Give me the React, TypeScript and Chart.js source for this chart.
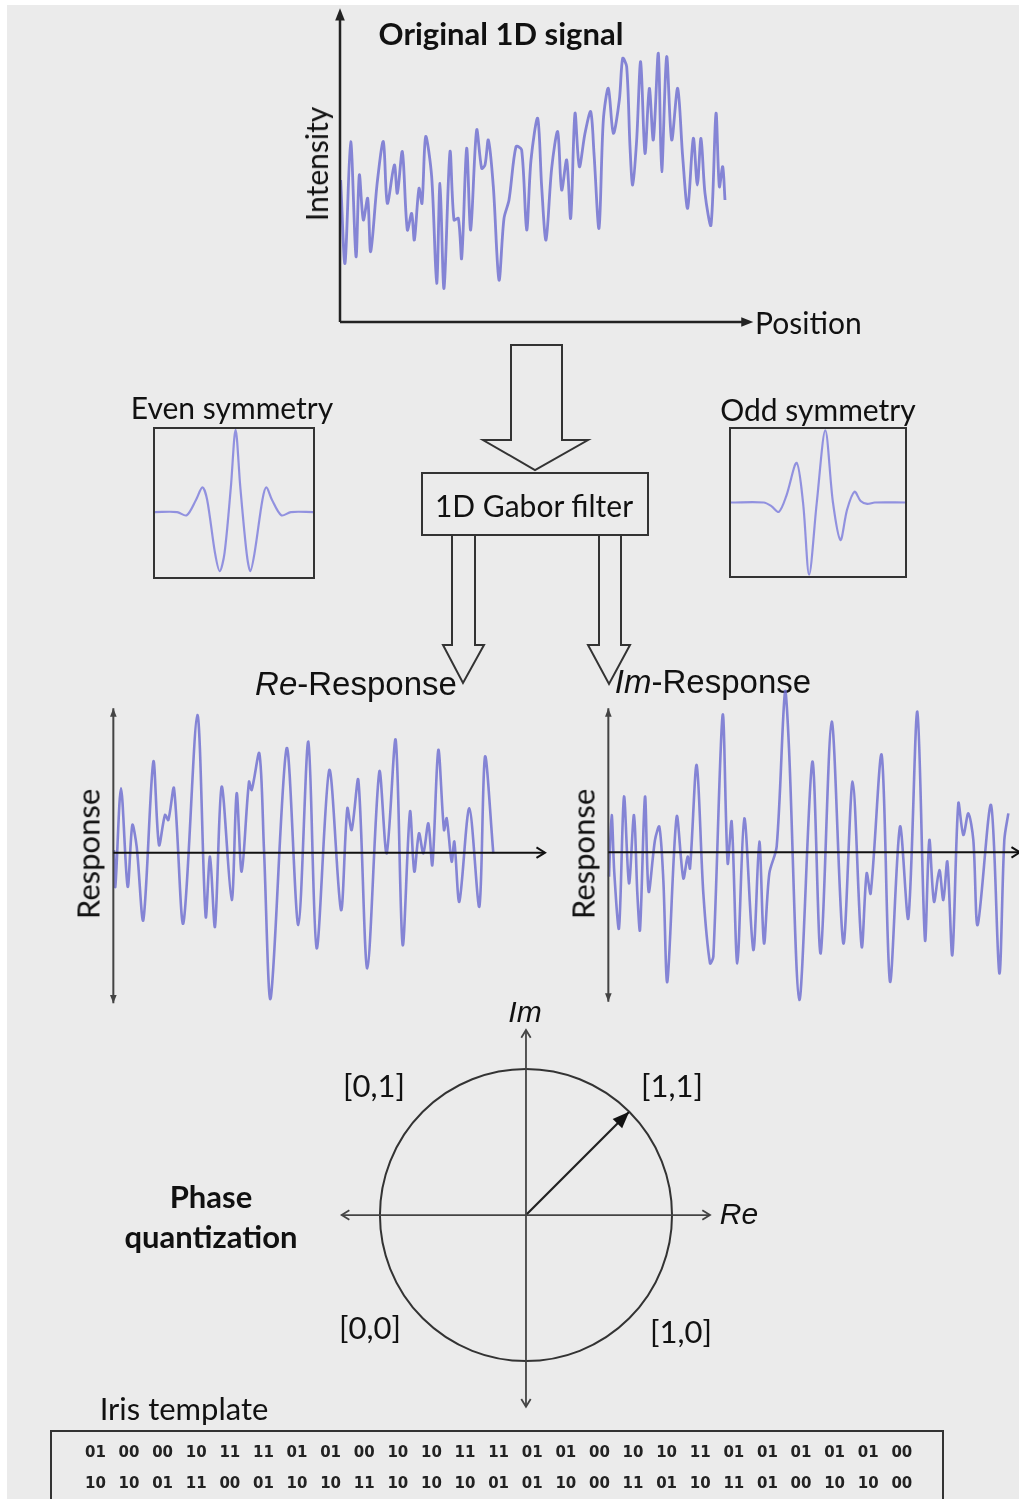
import React, { useEffect, useRef } from "react";
import { Chart, registerables } from "chart.js";
Chart.register(...registerables);

// ---------- Original 1D signal (position, intensity; arbitrary units) ----------
const origPos = [2, 15, 32, 48, 58, 70, 83, 92, 112, 130, 142, 163, 172, 187, 202, 215, 223, 237, 246, 257, 275, 290, 300, 312, 330, 342, 355, 365, 380, 392, 410, 425, 435, 445, 460, 477, 492, 507, 528, 545, 560, 573, 593, 605, 618, 635, 653, 665, 680, 692, 705, 718, 735, 752, 762, 777, 790, 805, 820, 838, 848, 860, 870, 878, 890, 902, 915, 928, 940, 955, 965, 980, 995, 1013, 1028, 1043, 1060, 1072, 1083, 1095, 1113, 1128, 1138, 1148, 1155];
const origVal = [426, 176, 541, 196, 441, 306, 371, 211, 421, 541, 356, 471, 386, 511, 276, 326, 246, 401, 356, 556, 436, 116, 416, 101, 511, 306, 311, 191, 521, 276, 576, 461, 471, 546, 406, 126, 311, 366, 526, 516, 276, 486, 611, 406, 246, 461, 571, 396, 486, 311, 626, 466, 566, 631, 506, 281, 606, 701, 566, 666, 791, 766, 526, 411, 546, 781, 506, 701, 546, 806, 451, 796, 546, 701, 496, 341, 551, 411, 551, 386, 291, 626, 406, 466, 366];

// ---------- Gabor filter kernels ----------
const evenPos = [0, 14, 20, 26, 30, 33, 38, 41, 44, 48, 51, 54, 58, 60.3, 63, 68, 70.5, 74, 80, 86, 100];
const evenVal = [0, 0, -0.04, 0.15, 0.3, 0.15, -0.5, -0.72, -0.5, 0.3, 1.0, 0.3, -0.5, -0.72, -0.5, 0.15, 0.3, 0.15, -0.04, 0, 0];
const oddPos = [0, 18.8, 23.2, 27.5, 31.9, 37.7, 41.4, 44.9, 49.3, 54.2, 58.6, 62.9, 66.7, 71, 74.5, 78.3, 82.6, 100];
const oddVal = [0, 0, -0.05, -0.13, 0.1, 0.55, 0, -1.0, 0, 1.0, 0, -0.52, -0.1, 0.15, 0.02, -0.02, 0, 0];

// ---------- Re-Response ----------
const rePos = [2, 6, 23, 43, 57, 70, 90, 120, 137, 155, 165, 182, 210, 252, 277, 290, 305, 325, 355, 370, 385, 407, 415, 438, 452, 472, 520, 555, 585, 610, 648, 683, 702, 715, 735, 762, 798, 820, 847, 868, 890, 903, 917, 930, 945, 957, 975, 992, 1000, 1015, 1023, 1038, 1068, 1098, 1115, 1140];
const reVal = [8, -102, 193, -102, 83, 18, -202, 273, 23, 113, 98, 193, -212, 413, -192, -12, -222, 198, -142, 178, -57, 213, 188, 298, 8, -437, 313, -217, 333, -287, 248, -172, 133, 68, 218, -347, 243, -2, 338, -277, 123, -57, 58, -2, 88, -37, 308, 68, 103, -27, 33, -147, 133, -162, 288, -2];

// ---------- Im-Response ----------
const imPos = [2, 10, 18, 32, 47, 62, 77, 87, 95, 110, 121, 140, 153, 165, 177, 205, 225, 238, 245, 265, 285, 305, 315, 343, 358, 370, 387, 408, 435, 453, 467, 483, 505, 530, 542, 573, 612, 637, 670, 705, 733, 760, 775, 787, 820, 845, 875, 900, 927, 950, 963, 977, 993, 1005, 1017, 1032, 1050, 1065, 1080, 1095, 1108, 1148, 1173, 1188, 1200];
const imVal = [-73, 112, -63, -228, 167, -93, 112, -123, -233, 167, -118, 37, 77, -83, -388, 107, -78, -13, -48, 262, -123, -333, -313, 412, -33, 92, -333, 102, -293, 32, -273, -63, 17, 482, 312, -443, 272, -303, 392, -273, 212, -283, -63, -123, 292, -388, 77, -198, 422, -263, 37, -148, -53, -143, -28, -308, 147, 52, 117, 37, -218, 142, -363, 37, 117];

// ---------- Phase quantization ----------
const phasorRe = [0, 0.707];
const phasorIm = [0, 0.707];
const quadrantLabels = ["[0,1]", "[1,1]", "[0,0]", "[1,0]"];

// ---------- Iris template ----------
const templateRow1 = ["01", "00", "00", "10", "11", "11", "01", "01", "00", "10", "10", "11", "11", "01", "01", "00", "10", "10", "11", "01", "01", "01", "01", "01", "00"];
const templateRow2 = ["10", "10", "01", "11", "00", "01", "10", "10", "11", "10", "10", "10", "01", "01", "10", "00", "11", "01", "10", "11", "01", "00", "10", "10", "00"];

const BG = "#ebebeb";
const SIGNAL = "rgba(108,108,208,0.82)";
const FILTER = "rgba(140,140,222,0.95)";
const CAL = "Lato, 'Open Sans', sans-serif";
const ARIAL = "'Liberation Sans', Arial, sans-serif";

function head(ctx: CanvasRenderingContext2D, fx: number, fy: number, tx: number, ty: number, size: number, filled: boolean) {
  const ang = Math.atan2(ty - fy, tx - fx);
  const spread = filled ? 0.38 : 0.55;
  const a1 = ang + Math.PI - spread;
  const a2 = ang + Math.PI + spread;
  ctx.beginPath();
  ctx.moveTo(tx + size * Math.cos(a1), ty + size * Math.sin(a1));
  ctx.lineTo(tx, ty);
  ctx.lineTo(tx + size * Math.cos(a2), ty + size * Math.sin(a2));
  if (filled) {
    ctx.closePath();
    ctx.fill();
  } else ctx.stroke();
}

function line(ctx: CanvasRenderingContext2D, x1: number, y1: number, x2: number, y2: number) {
  ctx.beginPath();
  ctx.moveTo(x1, y1);
  ctx.lineTo(x2, y2);
  ctx.stroke();
}

type Props = {
  left: number;
  top: number;
  width: number;
  height: number;
  xMin: number;
  xMax: number;
  yMin: number;
  yMax: number;
  datasets: any[];
  draw?: (chart: any) => void;
};

function PlotCanvas(p: Props) {
  const ref = useRef<HTMLCanvasElement>(null);
  useEffect(() => {
    const chart = new Chart(ref.current as HTMLCanvasElement, {
      type: "scatter",
      data: { datasets: p.datasets },
      options: {
        animation: false,
        responsive: false,
        maintainAspectRatio: false,
        events: [],
        layout: { padding: 0, autoPadding: false },
        plugins: { legend: { display: false }, tooltip: { enabled: false }, title: { display: false } },
        scales: {
          x: { type: "linear", min: p.xMin, max: p.xMax, display: false },
          y: { type: "linear", min: p.yMin, max: p.yMax, display: false },
        },
      },
      plugins: [
        {
          id: "deco",
          afterDatasetsDraw: (c: any) => {
            if (p.draw) {
              c.ctx.save();
              p.draw(c);
              c.ctx.restore();
            }
          },
        },
      ],
    } as any);
    return () => chart.destroy();
  }, []);
  return (
    <canvas
      ref={ref}
      width={p.width}
      height={p.height}
      style={{ position: "absolute", left: p.left, top: p.top, width: p.width, height: p.height }}
    />
  );
}

function series(xs: number[], ys: number[], color: string, width: number) {
  return {
    data: xs.map((x, i) => ({ x, y: ys[i] })),
    showLine: true,
    borderColor: color,
    borderWidth: width,
    borderJoinStyle: "round",
    pointRadius: 0,
    tension: 0.3,
    clip: false,
  };
}

function Label(props: { x: number; y: number; size: number; font?: string; bold?: boolean; rotate?: boolean; left?: boolean; children: any }) {
  const style: any = {
    position: "absolute",
    left: props.x,
    top: props.y,
    fontFamily: props.font || CAL,
    fontSize: props.size,
    fontWeight: props.bold ? 700 : 400,
    lineHeight: 1,
    whiteSpace: "nowrap",
    color: "#111",
    transform: props.left
      ? "translate(0,-50%)"
      : props.rotate
      ? "translate(-50%,-50%) rotate(-90deg)"
      : "translate(-50%,-50%)",
  };
  return <div style={style}>{props.children}</div>;
}

export default function App() {
  const drawOrig = (c: any) => {
    const ctx = c.ctx as CanvasRenderingContext2D;
    const x = c.scales.x, y = c.scales.y;
    ctx.strokeStyle = "#222";
    ctx.fillStyle = "#222";
    ctx.lineWidth = 2.5;
    const x0 = x.getPixelForValue(0), y0 = y.getPixelForValue(0);
    const yTop = y.getPixelForValue(941), xEnd = x.getPixelForValue(1240);
    line(ctx, x0, y0, x0, yTop + 6);
    line(ctx, x0, y0, xEnd - 6, y0);
    head(ctx, x0, y0, x0, yTop, 13, true);
    head(ctx, x0, y0, xEnd, y0, 13, true);
  };

  const respDraw = (yTopV: number, yBotV: number, xEndV: number) => (c: any) => {
    const ctx = c.ctx as CanvasRenderingContext2D;
    const x = c.scales.x, y = c.scales.y;
    const x0 = x.getPixelForValue(0), y0 = y.getPixelForValue(0);
    const yt = y.getPixelForValue(yTopV), yb = y.getPixelForValue(yBotV), xe = x.getPixelForValue(xEndV);
    ctx.strokeStyle = "#444";
    ctx.fillStyle = "#444";
    ctx.lineWidth = 2;
    line(ctx, x0, yt, x0, yb);
    head(ctx, x0, yb, x0, yt, 9, true);
    head(ctx, x0, yt, x0, yb, 9, true);
    ctx.strokeStyle = "#111";
    ctx.lineWidth = 2;
    line(ctx, x0, y0, xe, y0);
    head(ctx, x0, y0, xe, y0, 10, false);
  };

  const drawPhase = (c: any) => {
    const ctx = c.ctx as CanvasRenderingContext2D;
    const x = c.scales.x, y = c.scales.y;
    const cx = x.getPixelForValue(0), cy = y.getPixelForValue(0);
    const r = x.getPixelForValue(1) - cx;
    ctx.strokeStyle = "#333";
    ctx.lineWidth = 2;
    ctx.beginPath();
    ctx.arc(cx, cy, r, 0, Math.PI * 2);
    ctx.stroke();
    ctx.strokeStyle = "#444";
    ctx.lineWidth = 1.8;
    const xl = x.getPixelForValue(-1.262), xr = x.getPixelForValue(1.26);
    const yt = y.getPixelForValue(1.267), yb = y.getPixelForValue(-1.313);
    line(ctx, xl, cy, xr, cy);
    line(ctx, cx, yt, cx, yb);
    head(ctx, cx, cy, xl, cy, 9, false);
    head(ctx, cx, cy, xr, cy, 9, false);
    head(ctx, cx, cy, cx, yt, 9, false);
    head(ctx, cx, cy, cx, yb, 9, false);
    const px = x.getPixelForValue(phasorRe[1]), py = y.getPixelForValue(phasorIm[1]);
    ctx.fillStyle = "#111";
    head(ctx, cx, cy, px, py, 18, true);
  };

  const box = (l: number, t: number, r: number, b: number) => ({
    position: "absolute" as const,
    left: l,
    top: t,
    width: r - l,
    height: b - t,
    border: "2px solid #333",
    boxSizing: "border-box" as const,
  });

  const bitsStyle: any = {
    position: "absolute",
    fontFamily: "'DejaVu Sans', sans-serif",
    fontSize: 15,
    fontWeight: 700,
    color: "#222",
    lineHeight: 1,
  };

  return (
    <div style={{ position: "absolute", left: 0, top: 0, width: 1019, height: 1499, overflow: "hidden", background: "#fff" }}>
      <div style={{ position: "absolute", left: 7, top: 5, width: 1012, height: 1494, background: BG }} />

      {/* Original signal */}
      <PlotCanvas
        left={330}
        top={0}
        width={440}
        height={335}
        xMin={-30}
        xMax={1290}
        yMin={-39}
        yMax={966}
        datasets={[series(origPos, origVal, SIGNAL, 2.8)]}
        draw={drawOrig}
      />
      <Label x={501} y={33} size={31} bold>Original 1D signal</Label>
      <Label x={316} y={164} size={30} rotate>Intensity</Label>
      <Label x={755} y={322} size={30} left>Position</Label>

      {/* arrows and filter box */}
      <svg width={1019} height={1499} style={{ position: "absolute", left: 0, top: 0 }}>
        <polygon points="511,345 562,345 562,440 588,440 535,470 483,440 511,440" fill={BG} stroke="#333" strokeWidth={2} />
        <polygon points="452,535 475,535 475,645 484,645 463,683 443,645 452,645" fill={BG} stroke="#333" strokeWidth={2} />
        <polygon points="599,535 621,535 621,645 630,645 609,684 588,645 599,645" fill={BG} stroke="#333" strokeWidth={2} />
      </svg>
      <div style={{ ...box(421, 472, 649, 536), background: BG }} />
      <Label x={534} y={505} size={30}>1D Gabor filter</Label>

      {/* Filters */}
      <Label x={232} y={407} size={30}>Even symmetry</Label>
      <div style={box(153, 427, 315, 579)} />
      <PlotCanvas
        left={155}
        top={429}
        width={158}
        height={148}
        xMin={0}
        xMax={100}
        yMin={-0.79}
        yMax={1.01}
        datasets={[series(evenPos, evenVal, FILTER, 2.2)]}
      />
      <Label x={818} y={409} size={30}>Odd symmetry</Label>
      <div style={box(729, 427, 907, 578)} />
      <PlotCanvas
        left={731}
        top={429}
        width={174}
        height={147}
        xMin={0}
        xMax={100}
        yMin={-1.02}
        yMax={1.02}
        datasets={[series(oddPos, oddVal, FILTER, 2.2)]}
      />

      {/* Responses */}
      <Label x={356} y={683} size={33} font={ARIAL}>
        <span style={{ fontStyle: "italic" }}>Re</span>-Response
      </Label>
      <Label x={713} y={681} size={33} font={ARIAL}>
        <span style={{ fontStyle: "italic" }}>Im</span>-Response
      </Label>
      <PlotCanvas
        left={100}
        top={690}
        width={460}
        height={325}
        xMin={-40}
        xMax={1340}
        yMin={-487}
        yMax={488}
        datasets={[series(rePos, reVal, SIGNAL, 2.6)]}
        draw={respDraw(433, -452, 1295)}
      />
      <PlotCanvas
        left={595}
        top={680}
        width={424}
        height={335}
        xMin={-40}
        xMax={1232}
        yMin={-488}
        yMax={517}
        datasets={[series(imPos, imVal, SIGNAL, 2.6)]}
        draw={respDraw(432, -448, 1235)}
      />
      <Label x={88} y={854} size={31} rotate>Response</Label>
      <Label x={583} y={854} size={31} rotate>Response</Label>

      {/* Phase quantization */}
      <PlotCanvas
        left={330}
        top={1020}
        width={400}
        height={400}
        xMin={-1.342}
        xMax={1.397}
        yMin={-1.404}
        yMax={1.336}
        datasets={[
          {
            data: phasorRe.map((v, i) => ({ x: v, y: phasorIm[i] })),
            showLine: true,
            borderColor: "#222",
            borderWidth: 2.2,
            pointRadius: 0,
          },
        ]}
        draw={drawPhase}
      />
      <Label x={525} y={1012} size={30} font={ARIAL}><i>Im</i></Label>
      <Label x={739} y={1214} size={30} font={ARIAL}><i>Re</i></Label>
      <Label x={374} y={1085} size={31}>{quadrantLabels[0]}</Label>
      <Label x={672} y={1085} size={31}>{quadrantLabels[1]}</Label>
      <Label x={370} y={1327} size={31}>{quadrantLabels[2]}</Label>
      <Label x={681} y={1331} size={31}>{quadrantLabels[3]}</Label>
      <Label x={211} y={1196} size={31} bold>Phase</Label>
      <Label x={211} y={1236} size={31} bold>quantization</Label>

      {/* Iris template */}
      <Label x={184} y={1408} size={31}>Iris template</Label>
      <div style={{ ...box(50, 1430, 944, 1510) }} />
      {templateRow1.map((b, i) => (
        <div key={"a" + i} style={{ ...bitsStyle, left: 85 + i * 33.6, top: 1445 }}>{b}</div>
      ))}
      {templateRow2.map((b, i) => (
        <div key={"b" + i} style={{ ...bitsStyle, left: 85 + i * 33.6, top: 1476 }}>{b}</div>
      ))}
    </div>
  );
}
